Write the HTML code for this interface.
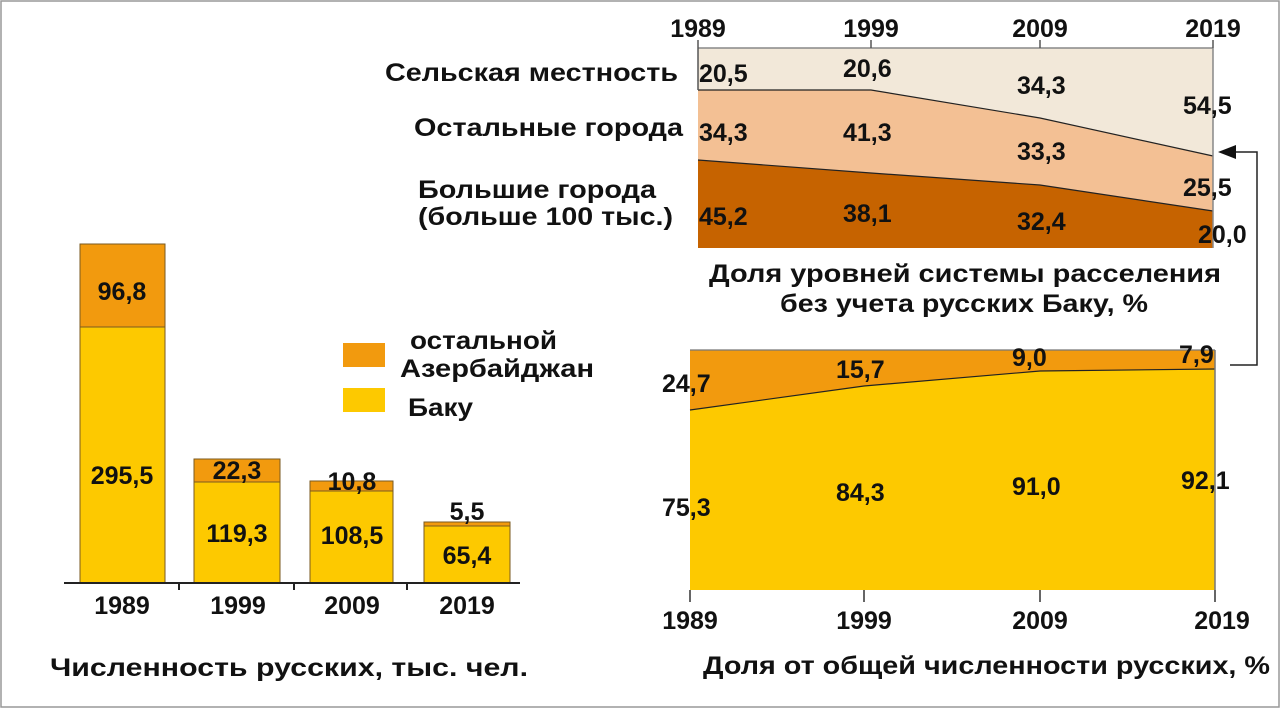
<!DOCTYPE html>
<html><head><meta charset="utf-8"><style>
html,body{margin:0;padding:0;background:#fff}
svg{display:block}
text{font-family:"Liberation Sans",sans-serif;font-weight:bold;fill:#111}
</style></head><body>
<svg width="1280" height="708" viewBox="0 0 1280 708" xmlns="http://www.w3.org/2000/svg">
<rect x="1" y="1" width="1278" height="706" fill="#fff" stroke="#999" stroke-width="1.5"/>

<!-- Bar chart -->
<g stroke="#7a5a20" stroke-width="1">
<rect x="80" y="244" width="85" height="83" fill="#F29A0E"/>
<rect x="80" y="327" width="85" height="256" fill="#FDC900"/>
<rect x="194" y="459" width="86" height="23" fill="#F29A0E"/>
<rect x="194" y="482" width="86" height="101" fill="#FDC900"/>
<rect x="310" y="481" width="83" height="10" fill="#F29A0E"/>
<rect x="310" y="491" width="83" height="92" fill="#FDC900"/>
<rect x="424" y="522" width="86" height="4" fill="#F29A0E"/>
<rect x="424" y="526" width="86" height="57" fill="#FDC900"/>
</g>
<line x1="64" y1="583" x2="520" y2="583" stroke="#222" stroke-width="2"/>
<g stroke="#222" stroke-width="2"><line x1="179" y1="583" x2="179" y2="590"/><line x1="294" y1="583" x2="294" y2="590"/><line x1="407" y1="583" x2="407" y2="590"/></g>
<g font-size="25" text-anchor="middle">
<text x="122" y="300">96,8</text>
<text x="122" y="484">295,5</text>
<text x="237" y="479">22,3</text>
<text x="237" y="542">119,3</text>
<text x="352" y="490">10,8</text>
<text x="352" y="544">108,5</text>
<text x="467" y="520">5,5</text>
<text x="467" y="564">65,4</text>
<text x="122" y="614">1989</text>
<text x="238" y="614">1999</text>
<text x="352" y="614">2009</text>
<text x="467" y="614">2019</text>
</g>
<text x="50" y="676" font-size="25" textLength="478" lengthAdjust="spacingAndGlyphs">Численность русских, тыс. чел.</text>

<!-- Legend -->
<rect x="343" y="343" width="42" height="24" fill="#F29A0E"/>
<rect x="343" y="388" width="42" height="24" fill="#FDC900"/>
<g font-size="25">
<text x="410" y="349" textLength="147" lengthAdjust="spacingAndGlyphs">остальной</text>
<text x="400" y="377" textLength="194" lengthAdjust="spacingAndGlyphs">Азербайджан</text>
<text x="408" y="416" textLength="65" lengthAdjust="spacingAndGlyphs">Баку</text>
</g>

<!-- Top right chart -->
<polygon points="698,48 1213,48 1213,156 1040,118 871,90 698,90" fill="#F2E8D9"/>
<polygon points="698,90 871,90 1040,118 1213,156 1213,211 1040,185 871,173 698,160" fill="#F3C094"/>
<polygon points="698,160 871,173 1040,185 1213,211 1213,248 698,248" fill="#C66300"/>
<polyline points="698,90 871,90 1040,118 1213,156" fill="none" stroke="#222" stroke-width="1.2"/>
<polyline points="698,160 871,173 1040,185 1213,211" fill="none" stroke="#222" stroke-width="1.2"/>
<line x1="698" y1="48" x2="1213" y2="48" stroke="#888" stroke-width="1.5"/>
<line x1="1213" y1="48" x2="1213" y2="248" stroke="#888" stroke-width="1.5"/>
<g stroke="#555" stroke-width="1.5"><line x1="698" y1="40" x2="698" y2="90"/><line x1="871" y1="40" x2="871" y2="48"/><line x1="1040" y1="40" x2="1040" y2="48"/><line x1="1213" y1="40" x2="1213" y2="48"/></g>
<g font-size="25" text-anchor="middle">
<text x="698" y="37">1989</text><text x="871" y="37">1999</text><text x="1040" y="37">2009</text><text x="1213" y="37">2019</text>
</g>
<g font-size="25">
<text x="699" y="82">20,5</text>
<text x="843" y="77">20,6</text>
<text x="1017" y="94">34,3</text>
<text x="1183" y="114">54,5</text>
<text x="699" y="141">34,3</text>
<text x="843" y="141">41,3</text>
<text x="1017" y="160">33,3</text>
<text x="1183" y="196">25,5</text>
<text x="699" y="225">45,2</text>
<text x="843" y="222">38,1</text>
<text x="1017" y="230">32,4</text>
<text x="1198" y="243">20,0</text>
</g>
<g font-size="25">
<text x="385" y="81" textLength="293" lengthAdjust="spacingAndGlyphs">Сельская местность</text>
<text x="414" y="136" textLength="269" lengthAdjust="spacingAndGlyphs">Остальные города</text>
<text x="418" y="198" textLength="238" lengthAdjust="spacingAndGlyphs">Большие города</text>
<text x="418" y="225" textLength="255" lengthAdjust="spacingAndGlyphs">(больше 100 тыс.)</text>
</g>
<g font-size="25">
<text x="709" y="282" textLength="512" lengthAdjust="spacingAndGlyphs">Доля уровней системы расселения</text>
<text x="780" y="312" textLength="368" lengthAdjust="spacingAndGlyphs">без учета русских Баку, %</text>
</g>

<!-- Arrow -->
<polyline points="1230,365 1257,365 1257,152 1232,152" fill="none" stroke="#222" stroke-width="1.5"/>
<polygon points="1218,152 1236,145 1236,159" fill="#111"/>

<!-- Bottom right chart -->
<polygon points="690,350 1215,350 1215,369 1040,371 864,386 690,410" fill="#F29A0E"/>
<polygon points="690,410 864,386 1040,371 1215,369 1215,590 690,590" fill="#FDC900"/>
<polyline points="690,410 864,386 1040,371 1215,369" fill="none" stroke="#222" stroke-width="1.2"/>
<line x1="690" y1="350" x2="1215" y2="350" stroke="#777" stroke-width="1.2"/>
<line x1="1215" y1="350" x2="1215" y2="590" stroke="#777" stroke-width="1.5"/>
<g stroke="#333" stroke-width="1.5"><line x1="690" y1="590" x2="690" y2="602"/><line x1="864" y1="590" x2="864" y2="602"/><line x1="1040" y1="590" x2="1040" y2="602"/><line x1="1215" y1="590" x2="1215" y2="602"/></g>
<g font-size="25">
<text x="662" y="392">24,7</text>
<text x="836" y="378">15,7</text>
<text x="1012" y="366">9,0</text>
<text x="1179" y="363">7,9</text>
<text x="662" y="516">75,3</text>
<text x="836" y="501">84,3</text>
<text x="1012" y="495">91,0</text>
<text x="1181" y="489">92,1</text>
</g>
<g font-size="25" text-anchor="middle">
<text x="690" y="629">1989</text><text x="864" y="629">1999</text><text x="1040" y="629">2009</text><text x="1222" y="629">2019</text>
</g>
<text x="703" y="674" font-size="25" textLength="567" lengthAdjust="spacingAndGlyphs">Доля от общей численности русских, %</text>
</svg>
</body></html>
